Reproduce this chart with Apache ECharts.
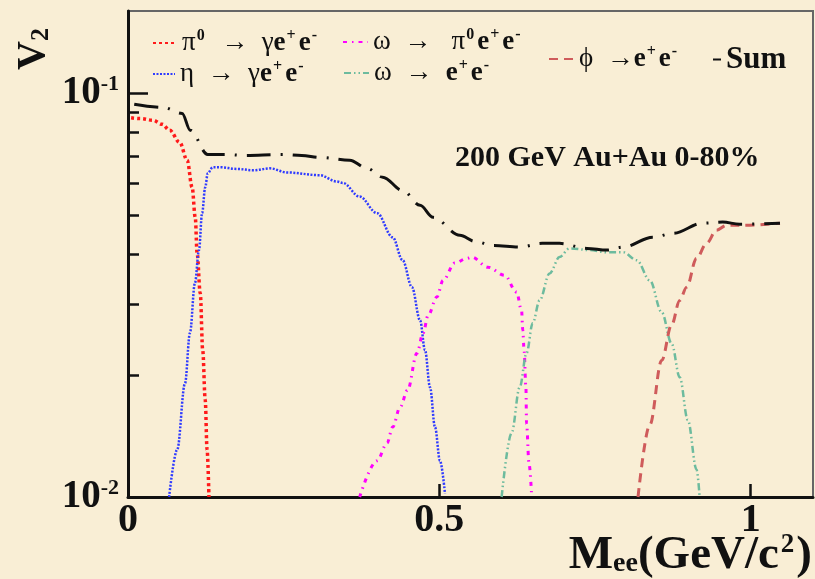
<!DOCTYPE html>
<html>
<head>
<meta charset="utf-8">
<script src="https://cdn.jsdelivr.net/npm/echarts@6/dist/echarts.min.js"></script>
<style>
html, body { margin: 0; padding: 0; background: #f9eed5; }
#chart { width: 815px; height: 579px; }
</style>
</head>
<body>
<div id="chart"></div>
<script>
// x: M_ee (GeV/c^2), y: v2 (log scale)
const pi0Data = [[0.005,0.087],[0.02,0.0866],[0.04,0.0858],[0.055,0.0838],[0.067,0.081],[0.083,0.0756],[0.095,0.0683],[0.103,0.0585],[0.108,0.0493],[0.111,0.0402],[0.116,0.032],[0.12,0.0231],[0.124,0.0174],[0.127,0.0131],[0.13,0.01]];
const etaData = [[0.066,0.01],[0.079,0.0131],[0.0915,0.0191],[0.0995,0.0255],[0.1075,0.0339],[0.114,0.0409],[0.119,0.0505],[0.124,0.0585],[0.128,0.0634],[0.136,0.0656],[0.148,0.0656],[0.175,0.065],[0.201,0.0645],[0.228,0.0652],[0.255,0.0637],[0.308,0.0627],[0.335,0.0605],[0.345,0.06],[0.372,0.0555],[0.4,0.0505],[0.425,0.044],[0.441,0.0386],[0.456,0.0331],[0.469,0.0274],[0.477,0.0231],[0.485,0.0187],[0.493,0.0149],[0.501,0.0123],[0.509,0.0102]];
const omegaDalitzData = [[0.372,0.01],[0.4,0.0123],[0.416,0.0136],[0.425,0.0149],[0.437,0.0167],[0.449,0.0184],[0.464,0.0227],[0.474,0.0255],[0.482,0.0282],[0.496,0.0313],[0.506,0.0344],[0.525,0.038],[0.544,0.039],[0.552,0.0393],[0.578,0.0371],[0.605,0.0354],[0.624,0.0322],[0.632,0.029],[0.634,0.0259],[0.636,0.0231],[0.639,0.0187],[0.64,0.0152],[0.644,0.0121],[0.648,0.0102]];
const omegaEEData = [[0.6,0.01],[0.616,0.0144],[0.629,0.0187],[0.64,0.0227],[0.65,0.027],[0.661,0.0307],[0.677,0.0358],[0.693,0.0393],[0.709,0.0413],[0.742,0.0409],[0.769,0.0404],[0.795,0.0404],[0.817,0.0386],[0.838,0.0344],[0.857,0.0287],[0.873,0.024],[0.886,0.0198],[0.899,0.0155],[0.913,0.0117],[0.918,0.01]];
const phiData = [[0.819,0.01],[0.838,0.0151],[0.857,0.0218],[0.873,0.0267],[0.886,0.0307],[0.897,0.0331],[0.913,0.039],[0.929,0.0425],[0.945,0.0458],[0.961,0.0471],[0.987,0.0471],[1.047,0.0477]];
const sumData = [[0.01,0.094],[0.056,0.0923],[0.087,0.0892],[0.1,0.081],[0.128,0.0706],[0.159,0.0706],[0.185,0.0702],[0.249,0.0706],[0.279,0.0702],[0.308,0.0694],[0.356,0.0683],[0.384,0.0652],[0.409,0.062],[0.441,0.0575],[0.469,0.0528],[0.49,0.0493],[0.533,0.0445],[0.557,0.043],[0.586,0.042],[0.629,0.0416],[0.665,0.0425],[0.693,0.0425],[0.737,0.0413],[0.769,0.0409],[0.795,0.0416],[0.843,0.044],[0.875,0.045],[0.923,0.0477],[0.955,0.048],[0.982,0.0474],[1.047,0.0477]];

const xTicks = [0, 0.5, 1];
const yMajorTicks = [0.01, 0.1];
const yMinorTicks = [0.02, 0.03, 0.04, 0.05, 0.06, 0.07, 0.08, 0.09];

const serif = "Liberation Serif";
const ink = "#111";

const legendText = {
    pi0: "{g|π}{sup|0}{g|  →  γ}{b|e}{sup|+}{b|e}{sup|-}",
    eta: "{g|η  →  γ}{b|e}{sup|+}{b|e}{sup|-}",
    omegaDalitz: "{g|ω  →   π}{sup|0}{b|e}{sup|+}{b|e}{sup|-}",
    omegaEE: "{g|ω  →  }{b|e}{sup|+}{b|e}{sup|-}",
    phi: "{g|ϕ  →}{b|e}{sup|+}{b|e}{sup|-}",
    Sum: "{sum|Sum}"
};

const legendRich = {
    g: { fontFamily: serif, fontSize: 27, lineHeight: 30, color: ink },
    b: { fontFamily: serif, fontSize: 27, lineHeight: 30, fontWeight: "bold", color: ink },
    sup: { fontFamily: serif, fontSize: 16, lineHeight: 16, fontWeight: "bold", verticalAlign: "top", color: ink, padding: [0, 3, 0, 1] },
    sum: { fontFamily: serif, fontSize: 31, lineHeight: 30, fontWeight: "bold", color: ink }
};

function mkLegend(name, left, top, w) {
    return {
        data: [name],
        left: left,
        top: top,
        padding: 0,
        itemWidth: w,
        itemHeight: 12,
        itemGap: 4,
        selectedMode: false,
        itemStyle: { opacity: 0 },
        formatter: n => legendText[n],
        textStyle: { rich: legendRich }
    };
}

function mkSeries(name, data, color, width, dash) {
    return {
        name: name,
        type: "line",
        data: data,
        symbol: "none",
        smooth: 0.35,
        smoothMonotone: "x",
        clip: true,
        lineStyle: { color: color, width: width, type: dash },
        itemStyle: { color: color },
        z: name === "Sum" ? 3 : 2
    };
}

const chart = echarts.init(document.getElementById("chart"));
chart.setOption({
    backgroundColor: "#f9eed5",
    animation: false,
    grid: {
        left: 128, right: 2, top: 11, bottom: 82,
        show: true, borderColor: "#666", borderWidth: 2, backgroundColor: "transparent"
    },
    legend: [
        mkLegend("pi0", 152, 28, 24),
        mkLegend("eta", 152, 59, 22),
        mkLegend("omegaDalitz", 342, 27, 25),
        mkLegend("omegaEE", 343, 58, 25),
        mkLegend("phi", 548, 44, 25),
        mkLegend("Sum", 712, 44, 8)
    ],
    xAxis: {
        type: "value",
        min: 0, max: 1.1, interval: 0.5,
        axisLine: { show: true, lineStyle: { color: ink, width: 3 } },
        axisTick: { show: true, inside: true, length: 13, lineStyle: { color: ink, width: 2.5 }, customValues: xTicks },
        axisLabel: {
            customValues: xTicks,
            margin: 4,
            fontFamily: serif, fontSize: 40, fontWeight: "bold", color: ink,
            formatter: v => String(v)
        },
        splitLine: { show: false }
    },
    yAxis: [
        {
            type: "log", logBase: 10,
            min: 0.01, max: 0.16,
            axisLine: { show: true, lineStyle: { color: ink, width: 3 } },
            axisTick: { show: true, inside: true, length: 20, lineStyle: { color: ink, width: 2.5 }, customValues: yMajorTicks },
            axisLabel: {
                customValues: yMajorTicks,
                margin: 9,
                formatter: v => v < 0.05 ? "{b|10}{sup|-2}" : "{b|10}{sup|-1}",
                rich: {
                    b: { fontFamily: serif, fontSize: 39, lineHeight: 40, fontWeight: "bold", color: ink },
                    sup: { fontFamily: serif, fontSize: 22, lineHeight: 22, fontWeight: "bold", verticalAlign: "top", color: ink }
                }
            },
            splitLine: { show: false }
        },
        {
            type: "log", logBase: 10,
            min: 0.01, max: 0.16,
            position: "left",
            axisLine: { show: false },
            axisTick: { show: true, inside: true, length: 11, lineStyle: { color: ink, width: 2.5 }, customValues: yMinorTicks },
            axisLabel: { show: false },
            splitLine: { show: false }
        }
    ],
    graphic: [
        {
            type: "text", left: 455, top: 143,
            style: { text: "200 GeV Au+Au 0-80%", fontFamily: serif, fontSize: 30, fontWeight: "bold", fill: ink }
        },
        {
            type: "text", x: 14, y: 70, rotation: Math.PI / 2,
            style: {
                text: "{b|V}{sub|2}",
                rich: {
                    b: { fontFamily: serif, fontSize: 40, lineHeight: 40, fontWeight: "bold", fill: ink },
                    sub: { fontFamily: serif, fontSize: 26, lineHeight: 24, fontWeight: "bold", verticalAlign: "bottom", fill: ink }
                }
            }
        },
        {
            type: "text", x: 812, y: 532,
            style: {
                text: "{b|M}{sub|ee}{b|(GeV/c}{sup|2}{b|)}",
                align: "right",
                verticalAlign: "top",
                rich: {
                    b: { fontFamily: serif, fontSize: 47, lineHeight: 46, fontWeight: "bold", verticalAlign: "top", fill: ink },
                    sub: { fontFamily: serif, fontSize: 28, lineHeight: 20, fontWeight: "bold", verticalAlign: "bottom", padding: [41, 0, 0, 0], fill: ink },
                    sup: { fontFamily: serif, fontSize: 27, lineHeight: 26, fontWeight: "bold", verticalAlign: "top", padding: [0, 2, 0, 2], fill: ink }
                }
            }
        }
    ],
    series: [
        mkSeries("pi0", pi0Data, "#ff1a1a", 3.5, [3, 3]),
        mkSeries("eta", etaData, "#2f3bff", 2.5, [2, 1.5]),
        mkSeries("omegaDalitz", omegaDalitzData, "#ff00ff", 3, [4, 5, 1.5, 5]),
        mkSeries("omegaEE", omegaEEData, "#6dbb9e", 2.5, [7, 3, 1.5, 3, 1.5, 3]),
        mkSeries("phi", phiData, "#cf5b5b", 3, [9, 6]),
        mkSeries("Sum", sumData, "#111111", 3, [24, 10, 2, 10])
    ]
});
</script>
</body>
</html>
